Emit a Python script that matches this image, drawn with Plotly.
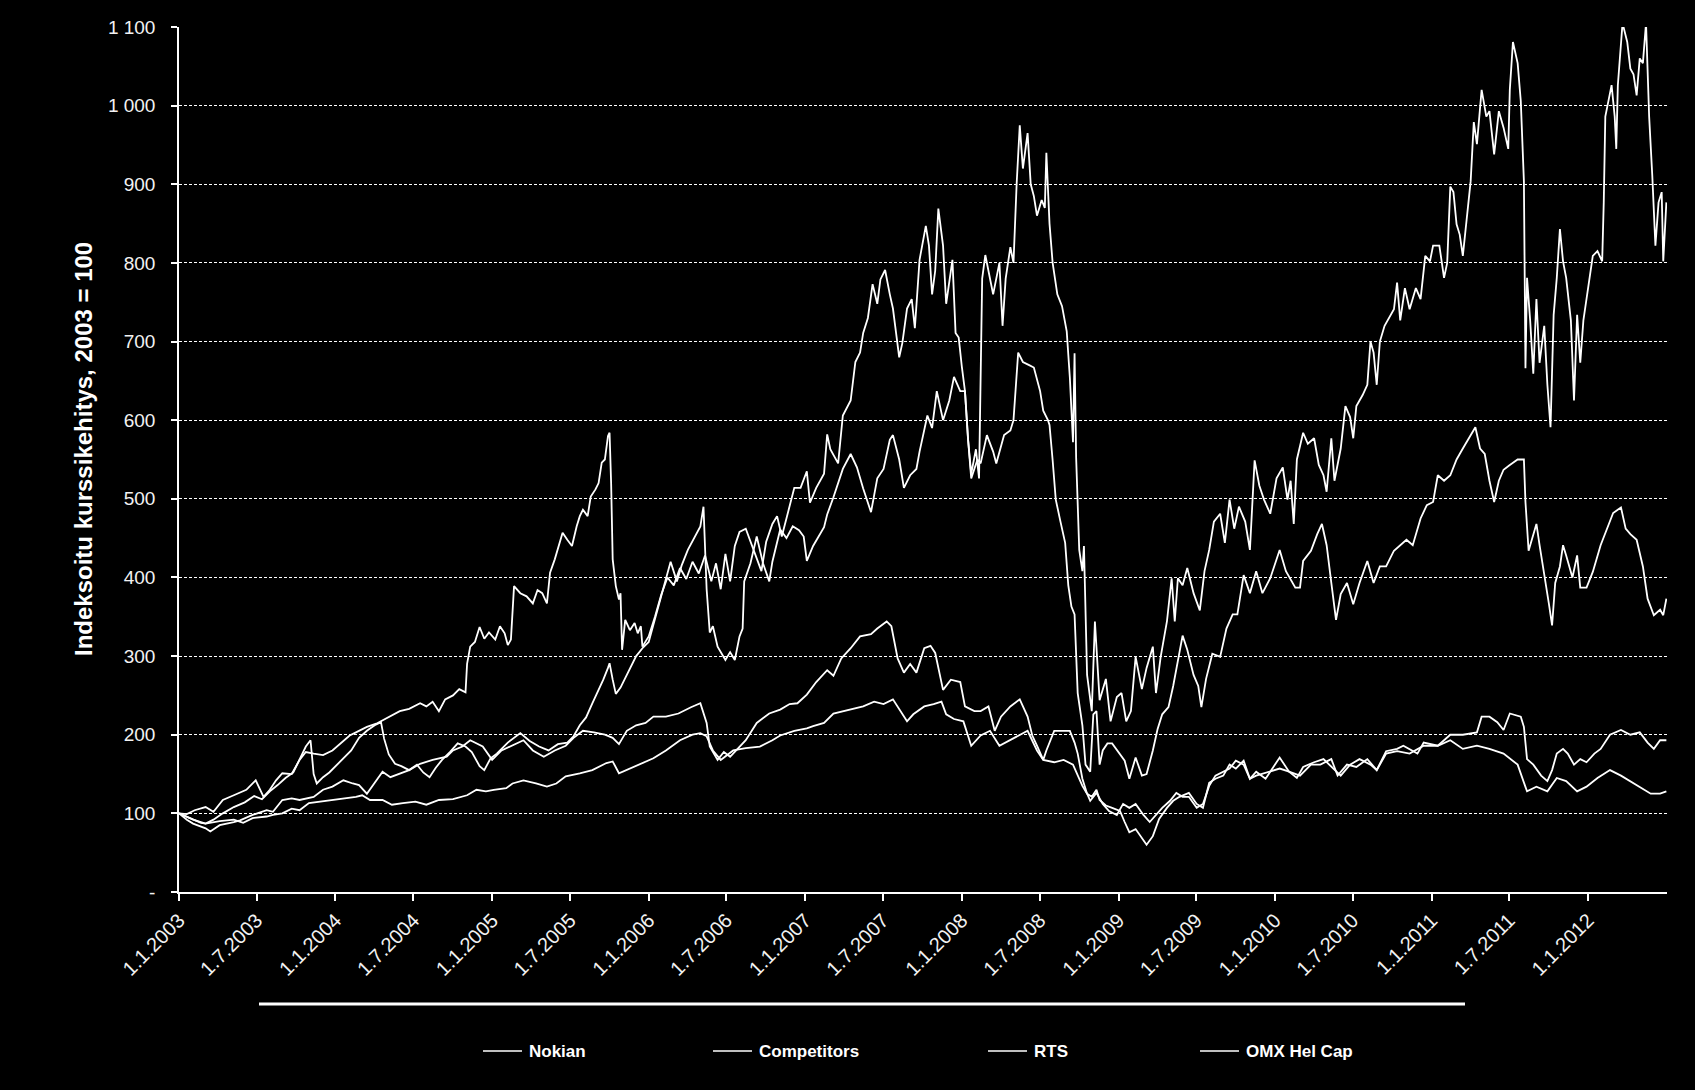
import numpy as np
import pandas as pd
import plotly.graph_objects as go

# ---------------- data (decimal year, index value 2003 = 100) ----------------
NOKIAN = [
(2003.00,100),(2003.05,99),(2003.10,104),(2003.17,108),(2003.22,102),(2003.28,117),(2003.35,123),(2003.43,130),(2003.49,142),(2003.54,121),(2003.58,130),(2003.62,142),(2003.66,151),(2003.72,150),(2003.77,168),(2003.81,178),(2003.86,176),(2003.92,174),(2003.98,180),
(2004.04,190),(2004.09,199),(2004.14,204),(2004.20,210),(2004.26,214),(2004.30,218),(2004.35,224),(2004.41,230),(2004.47,233),(2004.54,240),(2004.58,236),(2004.62,242),(2004.66,230),(2004.70,245),(2004.75,250),(2004.79,258),(2004.83,254),(2004.84,290),(2004.86,312),(2004.89,318),(2004.92,337),(2004.95,322),(2004.98,330),
(2005.02,321),(2005.05,338),(2005.08,329),(2005.10,314),(2005.12,321),(2005.14,389),(2005.18,380),(2005.22,376),(2005.26,367),(2005.29,384),(2005.32,380),(2005.35,367),(2005.37,406),(2005.40,423),(2005.45,457),(2005.48,448),(2005.51,440),(2005.54,465),(2005.56,478),(2005.58,486),(2005.61,478),(2005.63,503),(2005.66,512),(2005.68,520),(2005.70,546),(2005.72,550),(2005.74,580),(2005.75,584),(2005.76,520),(2005.77,423),(2005.79,389),(2005.81,372),(2005.82,380),(2005.83,308),(2005.85,346),(2005.88,333),(2005.91,342),(2005.93,329),(2005.95,338),(2005.96,312),
(2006.00,325),(2006.04,350),(2006.08,378),(2006.12,400),(2006.16,390),(2006.20,412),(2006.24,398),(2006.28,420),(2006.32,405),(2006.36,428),(2006.40,395),(2006.43,418),(2006.46,385),(2006.49,430),(2006.52,395),(2006.55,440),(2006.58,458),(2006.62,462),(2006.66,440),(2006.69,425),(2006.72,408),(2006.75,445),(2006.79,468),(2006.82,478),(2006.85,452),(2006.89,483),(2006.93,514),(2006.97,514),
(2007.01,535),(2007.03,495),(2007.07,514),(2007.12,532),(2007.14,582),(2007.16,563),(2007.21,545),(2007.24,606),(2007.29,625),(2007.32,674),(2007.35,686),(2007.37,711),(2007.40,730),(2007.43,773),(2007.46,748),(2007.48,779),(2007.51,791),(2007.54,760),(2007.56,742),(2007.60,680),(2007.62,698),(2007.65,742),(2007.68,754),(2007.70,717),(2007.73,804),(2007.77,847),(2007.79,822),(2007.81,760),(2007.83,790),(2007.85,869),(2007.88,822),(2007.90,748),(2007.94,804),(2007.96,711),(2007.98,705),
(2008.00,668),(2008.02,637),(2008.04,575),(2008.06,532),(2008.09,563),(2008.11,526),(2008.13,780),(2008.15,810),(2008.17,790),(2008.20,760),(2008.24,800),(2008.26,720),(2008.28,780),(2008.31,820),(2008.33,800),(2008.35,900),(2008.37,975),(2008.39,920),(2008.42,965),(2008.44,900),(2008.46,885),(2008.48,860),(2008.51,880),(2008.53,870),(2008.54,940),(2008.56,850),(2008.58,800),(2008.61,760),(2008.64,745),(2008.67,713),(2008.69,654),(2008.71,572),(2008.72,685),(2008.73,553),(2008.75,435),(2008.77,408),(2008.78,440),(2008.80,276),(2008.83,230),(2008.85,344),(2008.88,244),(2008.92,271),(2008.95,217),(2008.99,248),
(2009.02,253),(2009.05,217),(2009.08,230),(2009.11,299),(2009.15,258),(2009.18,285),(2009.22,312),(2009.24,253),(2009.27,299),(2009.31,344),(2009.34,399),(2009.36,344),(2009.38,399),(2009.41,390),(2009.44,412),(2009.48,380),(2009.52,358),(2009.55,408),(2009.58,435),(2009.61,471),(2009.65,481),(2009.68,444),(2009.71,499),(2009.74,462),(2009.77,490),(2009.81,471),(2009.84,435),(2009.87,549),(2009.90,517),(2009.93,499),(2009.97,481),
(2010.01,526),(2010.05,540),(2010.08,499),(2010.10,523),(2010.12,468),(2010.14,550),(2010.18,584),(2010.21,570),(2010.25,577),(2010.28,543),(2010.31,530),(2010.33,509),(2010.36,577),(2010.38,523),(2010.42,564),(2010.45,618),(2010.48,604),(2010.50,577),(2010.52,618),(2010.56,632),(2010.59,645),(2010.61,700),(2010.63,686),(2010.65,645),(2010.67,700),(2010.70,720),(2010.74,734),(2010.76,741),(2010.78,775),(2010.80,727),(2010.83,768),(2010.86,741),(2010.90,768),(2010.93,754),(2010.96,809),(2010.99,802),
(2011.01,822),(2011.05,822),(2011.08,781),(2011.10,800),(2011.12,897),(2011.14,890),(2011.16,849),(2011.18,836),(2011.20,809),(2011.23,863),(2011.25,904),(2011.27,979),(2011.29,951),(2011.32,1020),(2011.35,986),(2011.37,993),(2011.40,938),(2011.43,993),(2011.46,972),(2011.49,945),(2011.50,1020),(2011.52,1081),(2011.55,1054),(2011.57,1006),(2011.59,904),(2011.60,666),(2011.61,781),(2011.63,727),(2011.65,659),(2011.67,754),(2011.69,673),(2011.72,720),(2011.74,645),(2011.76,591),(2011.78,734),(2011.80,781),(2011.82,843),(2011.84,802),(2011.86,781),(2011.89,727),(2011.91,625),(2011.93,734),(2011.95,673),(2011.97,727),(2011.99,754),
(2012.01,781),(2012.03,809),(2012.06,815),(2012.09,802),(2012.10,877),(2012.11,986),(2012.13,1006),(2012.15,1026),(2012.17,986),(2012.18,945),(2012.19,1026),(2012.22,1105),(2012.25,1081),(2012.27,1047),(2012.29,1040),(2012.31,1013),(2012.33,1060),(2012.35,1054),(2012.37,1105),(2012.39,986),(2012.41,911),(2012.43,822),(2012.45,877),(2012.47,890),(2012.48,802),(2012.50,877)]

COMPETITORS = [
(2003.00,100),(2003.05,92),(2003.09,87),(2003.17,81),(2003.20,77),(2003.26,85),(2003.35,89),(2003.39,91),(2003.47,98),(2003.56,104),(2003.60,102),(2003.66,117),(2003.72,119),(2003.77,117),(2003.86,121),(2003.92,130),(2003.98,134),
(2004.05,142),(2004.11,138),(2004.15,136),(2004.20,125),(2004.26,142),(2004.30,153),(2004.35,146),(2004.41,151),(2004.47,155),(2004.54,163),(2004.62,168),(2004.71,172),(2004.75,180),(2004.81,185),(2004.86,193),(2004.94,185),
(2005.00,168),(2005.06,180),(2005.12,186),(2005.20,193),(2005.26,180),(2005.33,172),(2005.40,180),(2005.47,186),(2005.52,196),(2005.58,205),(2005.65,203),(2005.72,200),(2005.77,196),(2005.81,188),(2005.86,205),(2005.92,212),(2005.98,215),
(2006.03,223),(2006.11,223),(2006.19,227),(2006.27,235),(2006.33,240),(2006.37,215),(2006.39,185),(2006.44,168),(2006.48,178),(2006.52,172),(2006.58,185),(2006.62,193),(2006.69,215),(2006.77,227),(2006.84,232),(2006.90,239),(2006.95,240),
(2007.01,251),(2007.07,267),(2007.14,282),(2007.18,275),(2007.23,297),(2007.29,310),(2007.35,325),(2007.42,328),(2007.46,335),(2007.52,344),(2007.55,338),(2007.59,297),(2007.63,279),(2007.67,290),(2007.71,279),(2007.76,310),(2007.80,313),(2007.83,304),(2007.88,257),(2007.93,270),(2007.99,267),
(2008.02,236),(2008.08,230),(2008.12,230),(2008.17,236),(2008.21,205),(2008.25,223),(2008.31,236),(2008.37,245),(2008.42,223),(2008.45,199),(2008.48,186),(2008.52,168),(2008.54,180),(2008.59,205),(2008.65,205),(2008.69,205),(2008.72,190),(2008.74,176),(2008.77,144),(2008.80,125),(2008.83,121),(2008.86,130),(2008.88,117),(2008.92,110),(2008.96,107),
(2009.01,103),(2009.04,89),(2009.07,76),(2009.11,80),(2009.16,66),(2009.18,60),(2009.22,71),(2009.26,93),(2009.31,107),(2009.35,116),(2009.39,121),(2009.45,126),(2009.50,112),(2009.54,107),(2009.58,139),(2009.62,144),(2009.67,148),(2009.71,162),(2009.75,157),(2009.80,167),(2009.84,144),(2009.88,153),(2009.94,144),
(2010.03,171),(2010.09,153),(2010.14,145),(2010.18,159),(2010.25,165),(2010.31,169),(2010.38,155),(2010.42,148),(2010.48,162),(2010.54,169),(2010.61,162),(2010.65,155),(2010.71,179),(2010.78,182),(2010.82,186),(2010.91,176),(2010.95,190),
(2011.04,186),(2011.12,200),(2011.20,200),(2011.29,203),(2011.32,223),(2011.37,223),(2011.42,216),(2011.46,206),(2011.50,227),(2011.57,223),(2011.59,210),(2011.61,169),(2011.65,162),(2011.70,148),(2011.74,141),(2011.77,155),(2011.80,176),(2011.84,182),(2011.87,176),(2011.91,162),(2011.95,169),(2011.99,165),
(2012.04,176),(2012.08,182),(2012.14,200),(2012.21,206),(2012.27,200),(2012.33,203),(2012.38,190),(2012.42,182),(2012.46,193),(2012.50,193)]

RTS = [
(2003.00,100),(2003.05,96),(2003.09,92),(2003.14,88),(2003.17,87),(2003.22,92),(2003.28,100),(2003.35,108),(2003.42,114),(2003.48,122),(2003.53,118),(2003.58,128),(2003.63,136),(2003.68,145),(2003.73,152),(2003.77,168),(2003.81,185),(2003.84,193),(2003.86,150),(2003.88,138),(2003.92,146),(2003.96,152),
(2004.00,160),(2004.05,170),(2004.10,180),(2004.15,196),(2004.20,205),(2004.25,212),(2004.29,216),(2004.31,195),(2004.34,175),(2004.38,163),(2004.42,160),(2004.47,155),(2004.52,162),(2004.56,152),(2004.60,146),(2004.64,158),(2004.68,168),(2004.73,178),(2004.78,189),(2004.83,185),(2004.87,178),(2004.92,160),(2004.95,155),(2004.99,170),
(2005.03,176),(2005.10,190),(2005.18,202),(2005.24,192),(2005.30,185),(2005.36,180),(2005.42,188),(2005.48,190),(2005.52,198),(2005.56,212),(2005.60,222),(2005.64,240),(2005.67,252),(2005.71,270),(2005.74,285),(2005.75,291),(2005.77,270),(2005.79,252),(2005.82,260),(2005.84,268),(2005.88,285),(2005.92,300),(2005.96,310),
(2006.00,318),(2006.03,340),(2006.07,370),(2006.11,400),(2006.14,420),(2006.18,395),(2006.21,415),(2006.25,435),(2006.29,450),(2006.33,465),(2006.35,490),(2006.36,440),(2006.37,385),(2006.39,330),(2006.41,338),(2006.44,312),(2006.49,295),(2006.52,305),(2006.55,295),(2006.58,325),(2006.60,335),(2006.61,395),(2006.65,418),(2006.69,452),(2006.73,418),(2006.77,395),(2006.79,420),(2006.84,461),(2006.88,450),(2006.92,465),(2006.96,460),(2006.99,452),
(2007.01,421),(2007.05,440),(2007.12,464),(2007.14,480),(2007.18,502),(2007.24,538),(2007.29,557),(2007.33,540),(2007.37,513),(2007.42,483),(2007.46,526),(2007.50,538),(2007.54,575),(2007.56,581),(2007.60,550),(2007.63,514),(2007.67,530),(2007.71,538),(2007.73,560),(2007.78,606),(2007.81,590),(2007.84,637),(2007.88,600),(2007.92,625),(2007.95,655),(2007.99,637),
(2008.02,637),(2008.04,575),(2008.06,526),(2008.10,550),(2008.12,545),(2008.16,581),(2008.20,560),(2008.22,545),(2008.27,581),(2008.31,587),(2008.33,600),(2008.36,686),(2008.39,674),(2008.43,670),(2008.46,667),(2008.50,637),(2008.52,612),(2008.55,600),(2008.56,594),(2008.58,549),(2008.60,499),(2008.63,471),(2008.66,444),(2008.68,390),(2008.70,363),(2008.72,353),(2008.73,299),(2008.74,253),(2008.77,212),(2008.79,162),(2008.82,153),(2008.84,226),(2008.86,230),(2008.88,162),(2008.90,180),(2008.93,189),(2008.96,189),
(2009.01,176),(2009.04,167),(2009.07,144),(2009.11,171),(2009.15,148),(2009.18,150),(2009.22,180),(2009.25,207),(2009.28,226),(2009.32,235),(2009.35,262),(2009.38,294),(2009.41,326),(2009.44,308),(2009.48,276),(2009.51,262),(2009.53,235),(2009.56,271),(2009.60,303),(2009.65,299),(2009.69,335),(2009.73,353),(2009.76,353),(2009.80,403),(2009.84,380),(2009.88,408),(2009.92,380),(2009.97,399),
(2010.03,435),(2010.07,408),(2010.11,395),(2010.13,387),(2010.16,387),(2010.18,421),(2010.23,434),(2010.27,455),(2010.30,468),(2010.33,441),(2010.36,393),(2010.39,346),(2010.42,379),(2010.46,393),(2010.50,366),(2010.54,393),(2010.59,421),(2010.63,393),(2010.67,414),(2010.71,414),(2010.76,434),(2010.80,441),(2010.84,448),(2010.88,441),(2010.93,475),(2010.97,492),
(2011.01,496),(2011.04,530),(2011.08,523),(2011.12,530),(2011.16,550),(2011.20,564),(2011.24,577),(2011.28,591),(2011.31,564),(2011.34,557),(2011.37,523),(2011.40,496),(2011.43,523),(2011.46,537),(2011.50,543),(2011.55,550),(2011.59,550),(2011.60,496),(2011.62,434),(2011.65,455),(2011.67,468),(2011.69,441),(2011.73,393),(2011.75,366),(2011.77,339),(2011.79,393),(2011.82,414),(2011.84,441),(2011.86,428),(2011.90,400),(2011.93,428),(2011.95,387),(2011.99,387),
(2012.03,407),(2012.08,441),(2012.12,462),(2012.16,482),(2012.21,489),(2012.24,462),(2012.27,455),(2012.31,448),(2012.35,414),(2012.38,373),(2012.42,352),(2012.46,359),(2012.48,352),(2012.50,373)]

OMX_HEL_CAP = [
(2003.00,100),(2003.09,92),(2003.17,87),(2003.26,90),(2003.35,92),(2003.41,88),(2003.47,94),(2003.56,96),(2003.60,98),(2003.66,100),(2003.72,106),(2003.77,104),(2003.83,113),(2003.90,115),(2003.98,117),
(2004.07,119),(2004.13,121),(2004.17,123),(2004.22,117),(2004.30,117),(2004.36,111),(2004.43,113),(2004.51,115),(2004.58,111),(2004.66,117),(2004.75,118),(2004.84,123),(2004.90,130),(2004.96,128),
(2005.01,130),(2005.09,132),(2005.13,138),(2005.20,142),(2005.28,138),(2005.35,134),(2005.41,138),(2005.47,147),(2005.56,151),(2005.64,155),(2005.73,164),(2005.77,166),(2005.81,151),(2005.88,157),(2005.94,162),
(2006.03,170),(2006.11,180),(2006.20,193),(2006.28,200),(2006.33,202),(2006.37,198),(2006.41,180),(2006.46,168),(2006.54,180),(2006.62,183),(2006.71,185),(2006.79,193),(2006.84,199),(2006.93,205),
(2007.01,208),(2007.05,211),(2007.12,215),(2007.18,227),(2007.24,230),(2007.31,233),(2007.37,236),(2007.44,242),(2007.50,239),(2007.56,245),(2007.61,230),(2007.65,217),(2007.69,226),(2007.76,236),(2007.82,239),(2007.87,242),(2007.90,226),(2007.95,220),
(2008.01,217),(2008.06,186),(2008.12,199),(2008.18,205),(2008.24,186),(2008.31,193),(2008.37,199),(2008.42,205),(2008.48,180),(2008.52,168),(2008.59,165),(2008.65,168),(2008.71,162),(2008.73,153),(2008.77,135),(2008.80,125),(2008.82,116),(2008.86,126),(2008.90,112),(2008.94,103),(2008.99,98),
(2009.03,112),(2009.07,107),(2009.11,112),(2009.16,98),(2009.20,89),(2009.24,98),(2009.28,107),(2009.33,116),(2009.37,126),(2009.41,121),(2009.45,121),(2009.50,107),(2009.54,112),(2009.58,135),(2009.62,148),(2009.71,157),(2009.75,167),(2009.80,162),(2009.84,144),(2009.88,148),(2009.97,153),
(2010.03,157),(2010.09,153),(2010.16,148),(2010.23,162),(2010.29,162),(2010.36,169),(2010.40,148),(2010.46,162),(2010.52,159),(2010.59,169),(2010.65,155),(2010.71,176),(2010.78,179),(2010.86,176),(2010.95,186),
(2011.04,186),(2011.12,193),(2011.20,182),(2011.29,186),(2011.37,182),(2011.46,176),(2011.55,162),(2011.59,141),(2011.61,128),(2011.67,134),(2011.74,128),(2011.80,145),(2011.86,141),(2011.93,128),(2011.99,134),
(2012.06,145),(2012.14,155),(2012.21,148),(2012.27,141),(2012.33,134),(2012.40,125),(2012.46,125),(2012.50,128)]

SERIES_NAMES = ["Nokian", "Competitors", "RTS", "OMX Hel Cap"]
SERIES = [NOKIAN, COMPETITORS, RTS, OMX_HEL_CAP]

Y_TICKS = [0, 100, 200, 300, 400, 500, 600, 700, 800, 900, 1000, 1100]
Y_TICK_TEXT = ["-", "100", "200", "300", "400", "500", "600", "700", "800", "900", "1 000", "1 100"]
X_TICKS = ["%d-%02d-01" % (y, m) for y in range(2003, 2013) for m in (1, 7) if not (y == 2012 and m == 7)]
X_TICK_TEXT = ["1.%d.%d" % (int(s[5:7]), int(s[:4])) for s in X_TICKS]
Y_TITLE = "Indeksoitu kurssikehitys, 2003 = 100"

# ---------------- helpers ----------------
BASE = pd.Timestamp("2003-01-01")


def to_dates(ts):
    return [BASE + pd.Timedelta(days=(t - 2003.0) * 365.25) for t in ts]


W, H = 1695, 1090
L, R, T, B = 179, 28, 27, 198
PW, PH = W - L - R, H - T - B


def px(xpix):
    return (xpix - L) / PW


def py(ypix):
    return (H - B - ypix) / PH


FONT = "Liberation Sans, Arial, sans-serif"
WHITE = "#ffffff"
TXT = "#f2f2f2"

fig = go.Figure()
for name, pts in zip(SERIES_NAMES, SERIES):
    t, v = zip(*pts)
    fig.add_trace(go.Scatter(x=to_dates(t), y=list(v), mode="lines", name=name,
                             line=dict(color=WHITE, width=1.8), showlegend=False))

fig.update_layout(
    width=W, height=H,
    margin=dict(l=L, r=R, t=T, b=B),
    paper_bgcolor="#000000", plot_bgcolor="#000000",
    font=dict(family=FONT, color=TXT, size=19),
)
fig.update_xaxes(
    type="date", range=[BASE, BASE + pd.Timedelta(days=9.504 * 365.25)],
    tickvals=X_TICKS, ticktext=X_TICK_TEXT, tickangle=-45,
    tickfont=dict(size=20, color=TXT, family=FONT),
    showline=True, linecolor=WHITE, linewidth=1.5,
    ticks="outside", ticklen=7, tickcolor=WHITE, tickwidth=1.5,
    showgrid=False, zeroline=False,
)
fig.update_yaxes(
    range=[0, 1100], tickvals=Y_TICKS, ticktext=Y_TICK_TEXT,
    tickfont=dict(size=19, color=TXT, family=FONT),
    showline=True, linecolor=WHITE, linewidth=1.5,
    ticks="outside", ticklen=6, tickcolor=WHITE, tickwidth=1.5,
    ticklabelstandoff=12,
    showgrid=True, gridcolor=WHITE, gridwidth=1, griddash="3px,2px",
    zeroline=False,
)

# y-axis title
fig.add_annotation(text="<b>%s</b>" % Y_TITLE, xref="paper", yref="paper",
                   x=px(83), y=py(449), xanchor="center", yanchor="middle",
                   textangle=-90, showarrow=False,
                   font=dict(size=24, color=WHITE, family=FONT))

# decorative horizontal rule under the axis labels
fig.add_shape(type="line", xref="paper", yref="paper",
              x0=px(259), x1=px(1465), y0=py(1004), y1=py(1004),
              line=dict(color=WHITE, width=3))

# legend (drawn manually to match the entry spacing)
LEG_X = [483, 713, 988, 1200]
LEG_Y = 1051
for name, x0 in zip(SERIES_NAMES, LEG_X):
    fig.add_shape(type="line", xref="paper", yref="paper",
                  x0=px(x0), x1=px(x0 + 39), y0=py(LEG_Y), y1=py(LEG_Y),
                  line=dict(color=WHITE, width=1.7))
    fig.add_annotation(text="<b>%s</b>" % name, xref="paper", yref="paper",
                       x=px(x0 + 44), y=py(LEG_Y), xanchor="left", yanchor="middle",
                       showarrow=False, font=dict(size=17, color=WHITE, family=FONT))

fig.write_html("out.html")
